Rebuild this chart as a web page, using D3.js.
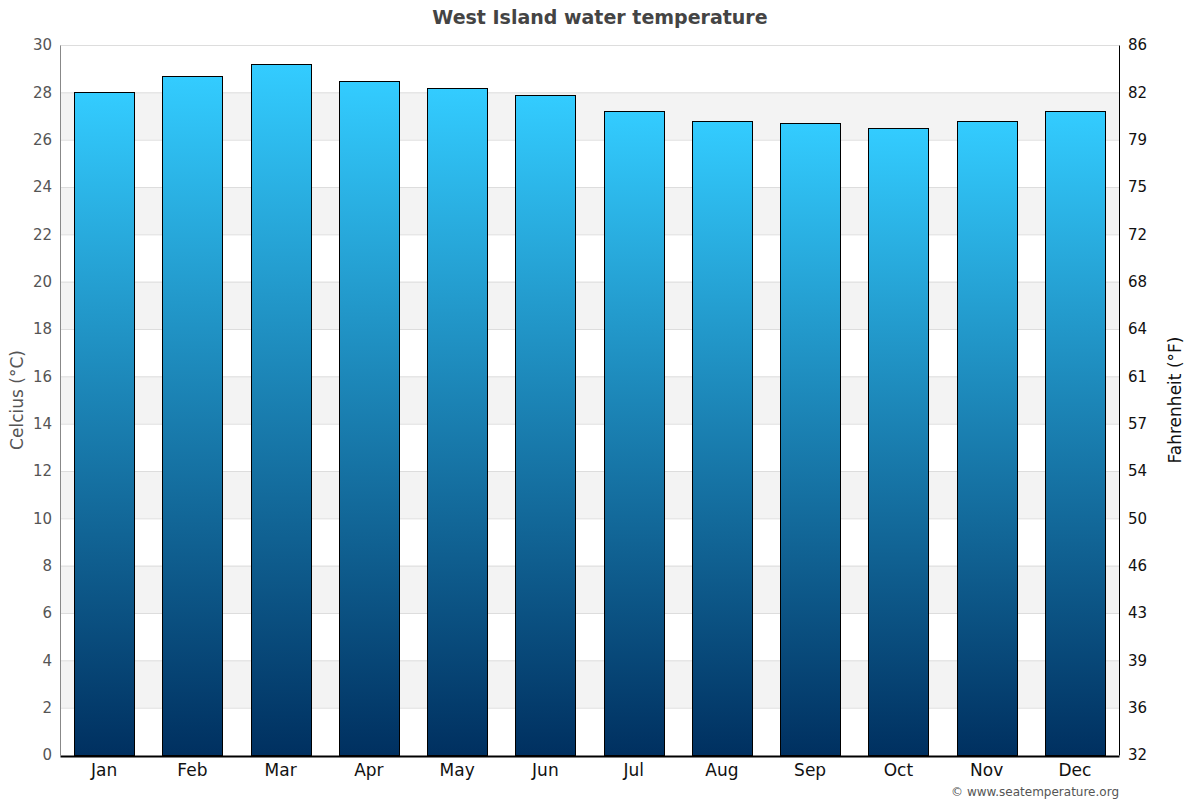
<!DOCTYPE html>
<html>
<head>
<meta charset="utf-8">
<script src="https://cdn.jsdelivr.net/npm/d3@7"></script>
<style>
  body { margin: 0; background: #fff; }
  svg { font-family: "DejaVu Sans", sans-serif; display: block; }
</style>
</head>
<body>
<svg id="chart"></svg>
<script>
// data
const months = ['Jan', 'Feb', 'Mar', 'Apr', 'May', 'Jun', 'Jul', 'Aug', 'Sep', 'Oct', 'Nov', 'Dec'];
const waterTemp = [28.0, 28.7, 29.2, 28.5, 28.2, 27.9, 27.2, 26.8, 26.7, 26.5, 26.8, 27.2];
const celsiusTicks = [0, 2, 4, 6, 8, 10, 12, 14, 16, 18, 20, 22, 24, 26, 28, 30];

const width = 1200, height = 800;
const margin = {top: 45, right: 81, bottom: 45, left: 60};

const svg = d3.select('#chart')
    .attr('width', width)
    .attr('height', height);

const x = d3.scaleBand()
    .domain(months)
    .range([margin.left, width - margin.right])
    .paddingInner(0.32)
    .paddingOuter(0.16);

const y = d3.scaleLinear()
    .domain([0, 30])
    .range([height - margin.bottom, margin.top]);

// gradient for bars
const defs = svg.append('defs');
const grad = defs.append('linearGradient')
    .attr('id', 'barGrad')
    .attr('x1', 0).attr('y1', 0).attr('x2', 0).attr('y2', 1);
grad.append('stop').attr('offset', '0%').attr('stop-color', '#33ccff');
grad.append('stop').attr('offset', '100%').attr('stop-color', '#003060');

// alternating bands
const bands = d3.range(2, 30, 4);
svg.append('g').selectAll('rect')
    .data(bands)
    .enter().append('rect')
    .attr('x', margin.left)
    .attr('width', width - margin.right - margin.left)
    .attr('y', d => y(d + 2))
    .attr('height', d => y(d) - y(d + 2))
    .attr('fill', '#f3f3f3');

// grid lines
svg.append('g').selectAll('line')
    .data(celsiusTicks.filter(d => d > 0))
    .enter().append('line')
    .attr('x1', margin.left)
    .attr('x2', width - margin.right)
    .attr('y1', d => y(d) + 0.5)
    .attr('y2', d => y(d) + 0.5)
    .attr('stroke', '#dddddd');

// bars
svg.append('g').selectAll('rect')
    .data(waterTemp)
    .enter().append('rect')
    .attr('x', (d, i) => Math.round(x(months[i])) + 0.5)
    .attr('width', Math.round(x.bandwidth()))
    .attr('y', d => Math.round(y(d)) + 0.5)
    .attr('height', d => Math.round(y(0)) - Math.round(y(d)))
    .attr('fill', 'url(#barGrad)')
    .attr('stroke', '#000')
    .attr('stroke-width', 1);

// left axis
const leftAxis = svg.append('g')
    .attr('transform', 'translate(' + margin.left + ',0)')
    .call(d3.axisLeft(y).tickValues(celsiusTicks).tickSize(0).tickPadding(8));
leftAxis.select('.domain').attr('stroke', '#888');
leftAxis.selectAll('text').attr('font-size', 15).attr('fill', '#555')
    .attr('font-family', '"DejaVu Sans", sans-serif');

// right axis (Fahrenheit labels at celsius positions)
const rightAxis = svg.append('g')
    .attr('transform', 'translate(' + (width - margin.right) + ',0)')
    .call(d3.axisRight(y).tickValues(celsiusTicks).tickSize(0).tickPadding(9)
        .tickFormat(d => Math.round(d * 9 / 5 + 32)));
rightAxis.select('.domain').attr('stroke', '#000');
rightAxis.selectAll('text').attr('font-size', 15).attr('fill', '#111')
    .attr('font-family', '"DejaVu Sans", sans-serif');

// bottom axis
const bottomAxis = svg.append('g')
    .attr('transform', 'translate(0,' + (height - margin.bottom + 1) + ')')
    .call(d3.axisBottom(x).tickSize(0).tickPadding(8));
bottomAxis.select('.domain').attr('stroke', '#000').attr('stroke-width', 2);
bottomAxis.selectAll('text').attr('font-size', 17).attr('fill', '#111')
    .attr('font-family', '"DejaVu Sans", sans-serif');

// title
svg.append('text')
    .attr('x', width / 2)
    .attr('y', 24)
    .attr('text-anchor', 'middle')
    .attr('font-size', 19)
    .attr('font-weight', 'bold')
    .attr('fill', '#444')
    .text('West Island water temperature');

// axis titles
svg.append('text')
    .attr('transform', 'translate(23,' + (height / 2) + ') rotate(-90)')
    .attr('text-anchor', 'middle')
    .attr('font-size', 17)
    .attr('fill', '#555')
    .text('Celcius (°C)');

svg.append('text')
    .attr('transform', 'translate(1181,' + (height / 2) + ') rotate(-90)')
    .attr('text-anchor', 'middle')
    .attr('font-size', 17)
    .attr('fill', '#111')
    .text('Fahrenheit (°F)');

// credit
svg.append('text')
    .attr('x', width - margin.right)
    .attr('y', 796)
    .attr('text-anchor', 'end')
    .attr('font-size', 12)
    .attr('fill', '#555')
    .text('© www.seatemperature.org');
</script>
</body>
</html>
